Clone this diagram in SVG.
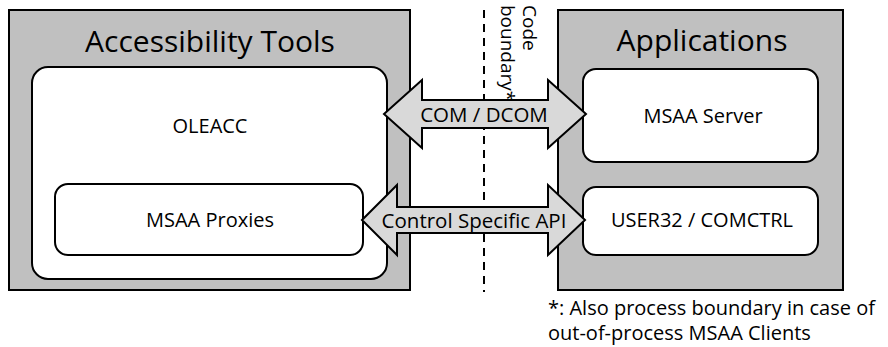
<svg xmlns="http://www.w3.org/2000/svg" width="888" height="347" viewBox="0 0 888 347">
<style>
.outer{fill:#c0c0c0;stroke:#000;stroke-width:2}
.inner{fill:#fff;stroke:#000;stroke-width:2}
.arrow{fill:#d9d9d9;stroke:#000;stroke-width:2;stroke-linejoin:miter}
text{font-family:"Open Sans","Noto Sans","DejaVu Sans",sans-serif;fill:#000;font-weight:500}
.title{font-size:30px;text-anchor:middle}
.lbl{font-size:20px;text-anchor:middle}
.alb{font-size:20.5px;text-anchor:middle}
.note{font-size:20px}
.cb{font-size:19px}
.bnd{stroke:#000;stroke-width:2;stroke-dasharray:8 6;fill:none}
</style>
<rect width="888" height="347" fill="#fff"/>
<g id="accessibility-tools">
<rect class="outer" x="9" y="10" width="401" height="280"/>
<text class="title" x="210" y="52">Accessibility Tools</text>
</g>
<g id="oleacc">
<rect class="inner" x="32" y="67" width="355" height="212" rx="16"/>
<text class="lbl" x="210" y="133">OLEACC</text>
</g>
<g id="msaa-proxies">
<rect class="inner" x="55" y="184" width="308" height="71" rx="13"/>
<text class="lbl" x="210" y="227">MSAA Proxies</text>
</g>
<g id="applications">
<rect class="outer" x="558" y="10" width="285" height="280"/>
<text class="title" x="702" y="51">Applications</text>
</g>
<g id="msaa-server">
<rect class="inner" x="583" y="69" width="235" height="93" rx="13"/>
<text class="lbl" x="703" y="123">MSAA Server</text>
</g>
<g id="user32-comctrl">
<rect class="inner" x="583" y="187" width="235" height="68" rx="13"/>
<text class="lbl" x="702" y="227">USER32 / COMCTRL</text>
</g>
<g id="code-boundary">
<line class="bnd" x1="484" y1="10" x2="484" y2="292"/>
<text class="cb" transform="translate(523,5) rotate(90)">Code</text>
<text class="cb" transform="translate(501,5) rotate(90)">boundary*</text>
</g>
<g id="connectors">
<polygon class="arrow" points="384,114 422,80 422,100 548,100 548,80 586,114 548,148 548,128 422,128 422,148"/>
<text class="alb" x="484" y="122">COM / DCOM</text>
<polygon class="arrow" points="362,220 397,185 397,207 548,207 548,185 585,220 548,255 548,233 397,233 397,255"/>
<text class="alb" x="474" y="228">Control Specific API</text>
</g>
<g id="footnote">
<text class="note" x="548" y="315">*: Also process boundary in case of</text>
<text class="note" x="548" y="340">out-of-process MSAA Clients</text>
</g>
</svg>
